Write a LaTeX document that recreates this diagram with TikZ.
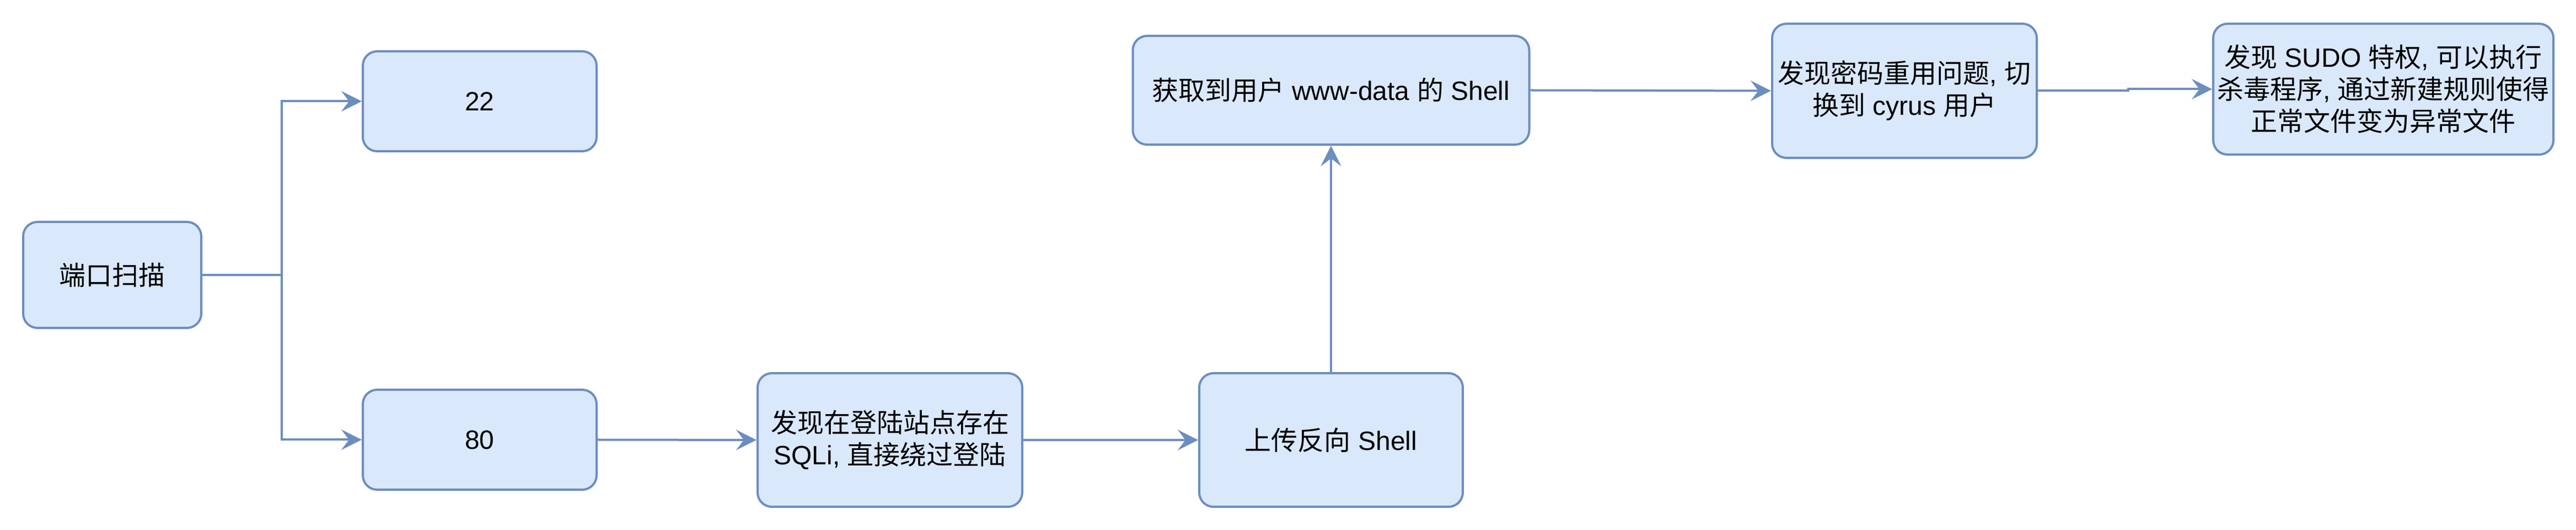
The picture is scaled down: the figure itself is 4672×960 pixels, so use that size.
\documentclass[tikz,border=0pt]{standalone}
\usepackage{fontspec}
\setmainfont{Liberation Sans}
\newfontfamily\cjk{Noto Sans CJK SC}
\usetikzlibrary{arrows.meta}
\definecolor{boxfill}{HTML}{DAE8FC}
\definecolor{boxline}{HTML}{6C8EBF}
\begin{document}
\begin{tikzpicture}[x=0.25pt,y=-0.25pt,
  box/.style={draw=boxline, fill=boxfill, line width=1pt, rounded corners=6.5pt,
    align=center, inner sep=0pt, text=black, font=\fontsize{12}{14.5}\selectfont},
  sz/.style n args={2}{minimum width=#1*0.25pt, minimum height=#2*0.25pt},
  link/.style={draw=boxline, line width=1pt, -{Stealth[length=9.25pt,width=9.25pt,inset=3.5pt]}}]
\useasboundingbox (0,0) rectangle (4672,960);

\node[box, sz={323}{192}] (scan) at (203.5,498) {\cjk 端口扫描};
\node[box, sz={424}{181}] (p22) at (870,183.5) {22};
\node[box, sz={424}{181}] (p80) at (870,796.5) {80};
\node[box, sz={480}{242}] (sqli) at (1614,797) {{\cjk 发现在登陆站点存在}\\SQLi, {\cjk 直接绕过登陆}};
\node[box, sz={478}{242}] (upload) at (2414,797) {{\cjk 上传反向} Shell};
\node[box, sz={719}{197}] (shell) at (2414,163.5) {{\cjk 获取到用户} www-data {\cjk 的} Shell};
\node[box, sz={480}{243}] (reuse) at (3454,164.5) {{\cjk 发现密码重用问题}, {\cjk 切}\\{\cjk 换到} cyrus {\cjk 用户}};
\node[box, sz={617}{237}] (sudo) at (4322.5,161.5) {{\cjk 发现} SUDO {\cjk 特权}, {\cjk 可以执行}\\{\cjk 杀毒程序}, {\cjk 通过新建规则使得}\\{\cjk 正常文件变为异常文件}};

\coordinate (br) at (511,498);
\coordinate (jog) at (3860,164.5);

\draw[link] (scan.east) -- (br) |- (p22.west);
\draw[link] (scan.east) -- (br) |- (p80.west);
\draw[link] (p80.east) -- (sqli.west);
\draw[link] (sqli.east) -- (upload.west);
\draw[link] (upload.north) -- (shell.south);
\draw[link] (shell.east) -- (reuse.west);
\draw[link] (reuse.east) -- (jog) |- (sudo.west);
\end{tikzpicture}
\end{document}
